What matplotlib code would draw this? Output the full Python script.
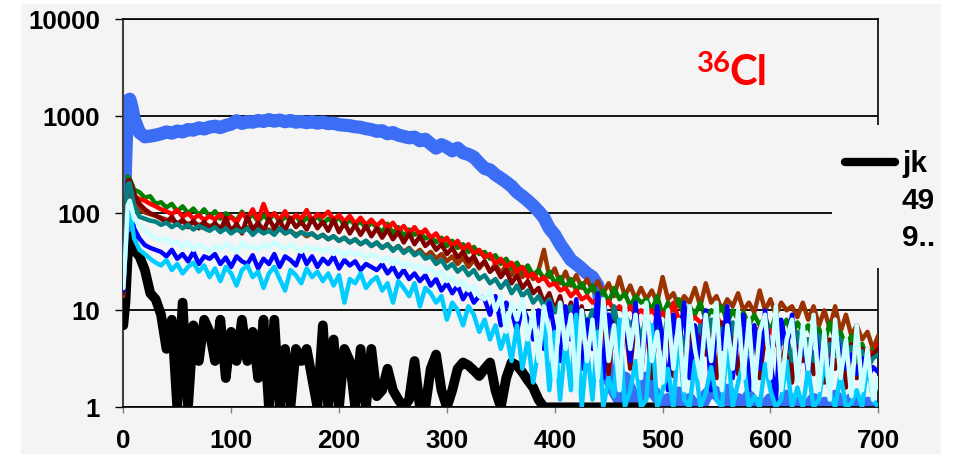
import numpy as np
import matplotlib.pyplot as plt
from matplotlib.lines import Line2D
from matplotlib.patches import Rectangle
from matplotlib.ticker import FixedLocator, FixedFormatter, NullLocator

plt.rcParams['font.family'] = ['Liberation Sans', 'DejaVu Sans']
plt.rcParams['font.weight'] = 'bold'

# channel numbers: fine steps over the entrance peak, then every 5 channels
channel = np.concatenate([np.arange(0, 10, 2), np.arange(10, 701, 5)])

# counts per channel for each run
cl36_main = [12, 300, 1450, 1500, 1250, 950, 680, 615, 625, 640,
             660, 690, 670, 705, 690, 730, 720, 760, 740, 775,
             790, 765, 805, 830, 900, 845, 880, 870, 905, 885,
             925, 890, 915, 880, 905, 870, 885, 860, 880, 850,
             870, 840, 850, 820, 810, 800, 780, 770, 745, 730,
             700, 710, 660, 680, 640, 620, 600, 610, 560, 580,
             520, 470, 510, 480, 440, 470, 420, 405, 380, 330,
             290, 280, 250, 230, 210, 190, 165, 150, 135, 120,
             105, 90, 70, 60, 48, 40, 33, 30, 27, 24,
             22, 18, 6, 2, 1.5, 1.2, 2, 1.5, 1, 1.2,
             2, 1.5, 1.3, 1, 1.2, 1, 1.4, 1, 1.2, 1,
             1, 1.3, 1.5, 1.4, 1.2, 1.5, 1, 1.2, 1, 1.3,
             1, 1.1, 1, 1.2, 1, 1, 1.3, 1, 1.1, 1,
             1, 1.2, 1, 1.1, 1, 1.3, 1, 1, 1.2, 1,
             1, 1.1, 1, 1]

# last counts at channel 490, nothing recorded after that
jk499 = [7, 12, 35, 55, 58, 42, 36, 26, 15, 13,
         9, 4, 8, 1, 12, 1, 7, 3, 8, 6,
         3, 8, 2, 6, 3, 8, 3, 6, 2, 8,
         1, 8, 1, 4, 1, 4, 3, 4, 2, 1,
         7, 1, 5, 1, 4, 3, 1, 4, 1, 4,
         1.3, 1.5, 2.5, 1.5, 1.2, 1, 1.2, 3, 1, 1,
         2.5, 3.5, 1.5, 1, 1.5, 2.5, 2.9, 2.7, 2.4, 2.1,
         2.5, 2.9, 1.5, 1, 2, 2.9, 2.7, 2.3, 1.9, 1.6,
         1.2, 1, 1, 1, 1, 1, 1, 1, 1, 1,
         1, 1, 1, 1, 1, 1, 1, 1, 1, 1,
         1, 1] + [None] * 42

run_green = [18, 60, 240, 225, 200, 175, 165, 145, 150, 125,
             130, 115, 125, 105, 118, 100, 112, 96, 110, 92,
             105, 88, 100, 92, 84, 104, 86, 98, 82, 95,
             85, 100, 80, 93, 84, 96, 78, 90, 82, 94,
             78, 88, 80, 92, 74, 86, 76, 82, 70, 80,
             72, 64, 78, 62, 72, 58, 68, 60, 64, 55,
             58, 50, 56, 46, 52, 44, 48, 40, 45, 38,
             40, 34, 37, 30, 34, 27, 31, 25, 29, 23,
             26, 21, 25, 19, 22, 17, 21, 16, 19, 15,
             18, 14, 16, 12, 17, 13, 15, 11, 14, 12,
             13, 10, 14, 9, 12, 10, 13, 8.5, 11, 9,
             12, 8, 10, 9, 11, 7.5, 10, 8, 9.5, 7,
             9, 7, 8.5, 6, 9, 6.5, 8, 5.5, 7.5, 6,
             7, 5, 6.5, 4.5, 7.5, 5, 6, 4.2, 5.5, 4,
             4.5, 3.2, 4, 3.5]

run_red = [16, 50, 180, 190, 170, 150, 140, 135, 125, 118,
           110, 105, 98, 108, 92, 100, 88, 96, 85, 94,
           86, 98, 84, 92, 80, 100, 88, 110, 84, 125,
           90, 100, 86, 105, 82, 96, 88, 108, 84, 98,
           92, 104, 86, 96, 82, 94, 78, 90, 76, 86,
           74, 84, 70, 80, 66, 74, 62, 72, 60, 68,
           56, 62, 50, 56, 46, 52, 42, 48, 38, 42,
           35, 38, 30, 34, 28, 31, 25, 28, 22, 24,
           20, 22, 18, 19, 16, 17, 14, 16, 13, 14,
           12, 13, 11, 12.5, 10, 11, 9.5, 11, 9, 10,
           9, 10, 8.5, 9.5, 8, 12, 8, 9, 7.5, 8.5,
           7.5, 8, 7, 9, 6.5, 7.5, 6, 7, 5.5, 6.5,
           6, 6.5, 5.5, 6.2, 5, 6, 4.8, 7, 4.5, 5.5,
           4.5, 5, 4.2, 4.8, 4, 4.5, 3.8, 4.2, 3.5, 4,
           3.5, 4, 3.3, 4.5]

run_darkred = [15, 55, 215, 220, 195, 160, 125, 110, 100, 95,
               88, 80, 92, 76, 86, 72, 84, 70, 82, 68,
               80, 66, 90, 64, 78, 62, 92, 68, 80, 66,
               88, 70, 84, 66, 90, 72, 82, 68, 88, 70,
               82, 66, 86, 64, 80, 62, 76, 60, 74, 58,
               70, 56, 68, 54, 64, 50, 62, 48, 58, 46,
               52, 42, 48, 38, 44, 35, 40, 32, 36, 28,
               32, 25, 28, 22, 26, 19, 23, 17, 20, 15,
               17, 12, 15, 10, 14, 8, 12, 6, 11, 5,
               10, 3, 9, 2.2, 10, 4, 8, 2.5, 9, 3,
               8, 2, 9, 4, 7, 2.1, 8, 3, 7.5, 2,
               7, 3.5, 6, 2, 7.5, 3, 5.5, 2.2, 6, 4,
               6.5, 2, 5.5, 3, 6, 2.5, 5, 1.8, 5.5, 3,
               5, 2.2, 4.5, 1.8, 5, 2.5, 4, 1.6, 4.5, 2,
               4, 2.5, 3.5, 4]

run_brown = [14, 45, 160, 175, 150, 130, 110, 102, 98, 94,
             90, 86, 84, 80, 82, 78, 80, 76, 78, 74,
             76, 72, 74, 70, 72, 68, 72, 66, 70, 66,
             68, 64, 70, 62, 66, 60, 64, 58, 62, 56,
             60, 54, 58, 52, 56, 50, 54, 48, 52, 46,
             50, 44, 48, 42, 46, 40, 44, 38, 42, 36,
             40, 34, 38, 32, 36, 30, 35, 28, 33, 27,
             32, 25, 30, 24, 29, 23, 28, 22, 27, 21,
             26, 42, 22, 27, 19, 25, 18, 23, 17, 21,
             16, 20, 15, 19, 14, 22, 14, 18, 13, 17,
             13, 16, 12, 22, 13, 15, 11, 14, 12, 17,
             11, 19, 12, 14, 10, 13, 11, 15, 10, 12,
             9.5, 16, 10, 13, 9, 12, 10, 11, 8.5, 12,
             8, 11, 7, 10, 6.5, 11, 6, 9, 5.5, 7,
             5, 6, 4, 5.5]

run_teal = [17, 50, 200, 205, 160, 120, 92, 88, 84, 82,
            76, 80, 72, 78, 70, 76, 68, 74, 70, 66,
            72, 64, 70, 62, 68, 64, 70, 60, 68, 62,
            66, 60, 70, 62, 66, 58, 64, 60, 62, 56,
            60, 54, 58, 52, 56, 50, 54, 48, 52, 46,
            50, 44, 48, 41, 46, 39, 43, 37, 40, 34,
            36, 30, 33, 27, 30, 25, 28, 23, 26, 21,
            23, 19, 21, 17, 20, 15, 18, 14, 16, 12,
            14, 11, 13, 9.5, 12, 9, 11, 8, 10, 7,
            10, 6.5, 9, 6, 11, 5.5, 9, 7, 8.5, 5,
            9, 5.5, 8, 4.5, 9, 6, 7.5, 4, 8, 5,
            7, 4.2, 8, 5, 6.5, 3.5, 7.5, 4.5, 6, 3.8,
            7, 4, 6, 3.2, 6.5, 4.5, 5.5, 3, 6, 3.5,
            5, 3, 5.5, 2.8, 4.5, 3.5, 5, 2.6, 4.2, 3,
            3.8, 2.5, 3.2, 3.5]

run_blue = [16, 45, 110, 117, 90, 70, 55, 47, 44, 42,
            40, 36, 42, 34, 38, 32, 40, 30, 36, 34,
            38, 30, 35, 28, 36, 32, 30, 37, 27, 34,
            30, 38, 28, 36, 33, 29, 40, 30, 36, 28,
            34, 30, 36, 27, 33, 29, 32, 26, 30, 28,
            26, 30, 24, 28, 22, 26, 21, 24, 20, 23,
            18, 21, 16, 19, 15, 18, 13, 16, 12, 14,
            13, 9, 14, 7, 12, 10, 6, 11, 8, 5,
            10, 4, 12, 6, 3, 11, 5, 13, 2.5, 8,
            4, 15, 2, 9, 6, 1.8, 10, 3, 12, 2.2,
            8, 3, 11, 5, 1.5, 9, 4, 12, 2, 7,
            3, 10, 1.5, 8, 4, 11, 2, 6, 9, 1.5,
            7, 2.5, 10, 3, 1.2, 8, 4, 9, 2, 6,
            2.2, 8, 3, 5, 1.8, 7, 3.2, 2.5, 3.5, 2.2,
            3.2, 2, 2.6, 2.3]

run_skyblue = [17, 40, 90, 100, 80, 55, 42, 38, 34, 31,
               29, 33, 26, 30, 24, 28, 31, 25, 29, 22,
               27, 20, 28, 24, 18, 26, 29, 22, 25, 17,
               24, 28, 21, 16, 26, 23, 19, 27, 22, 25,
               20, 24, 18, 23, 12, 21, 19, 24, 17, 20,
               22, 16, 19, 12, 20, 17, 14, 19, 11, 17,
               15, 12, 14, 8, 12, 10, 7, 11, 9, 6,
               8, 5, 7, 4, 6, 3, 7, 2.5, 5, 1.8,
               4, 8, 1.5, 6, 1.2, 5, 1.5, 9, 1, 4,
               1.2, 6, 1, 2, 1.3, 8, 1, 1.5, 3, 1,
               1.2, 7, 1, 1.5, 2.5, 1, 6, 1.2, 1, 3,
               1, 1.4, 2.6, 1.2, 1, 5, 1, 1.8, 3, 1,
               1.3, 1, 2.8, 1.5, 1, 1.2, 3, 1, 1.6, 1,
               2.5, 1, 1.2, 3, 1.4, 1, 2.2, 1, 1.1, 1.5,
               1, 3, 1.2, 1]

run_lightcyan = [17, 40, 120, 135, 110, 88, 75, 66, 60, 55,
                 52, 56, 48, 52, 44, 50, 42, 48, 44, 40,
                 46, 42, 48, 44, 40, 50, 44, 46, 42, 48,
                 44, 50, 46, 42, 48, 44, 40, 46, 42, 44,
                 40, 44, 38, 42, 36, 41, 37, 39, 34, 38,
                 36, 32, 35, 30, 33, 28, 31, 27, 29, 25,
                 27, 23, 25, 20, 22, 18, 20, 16, 18, 14,
                 13, 16, 10, 14, 6, 12, 8, 13, 5, 10,
                 3, 11, 6, 2, 12, 4, 9, 1.5, 10, 3,
                 8, 2, 13, 3, 7, 1.5, 11, 4, 9, 2,
                 12, 3, 6, 1.8, 10, 2.5, 8, 1.5, 11, 4,
                 2, 9, 3, 12, 1.5, 7, 2.5, 10, 2, 8,
                 1.5, 6, 9, 2, 11, 1.5, 5, 8, 1.8, 7,
                 2.5, 9, 1.5, 6, 1.2, 8, 2, 5, 1.3, 7,
                 1.5, 4, 1.2, 2]

W, H = 956, 454
fig = plt.figure(figsize=(W / 100, H / 100), dpi=100)
fig.patch.set_facecolor('white')
# grey chart area
fig.add_artist(Rectangle((21 / W, 0), 920 / W, 1 - 4 / H, transform=fig.transFigure,
                         facecolor='#f4f4f4', edgecolor='none', zorder=-1))

ax = fig.add_axes([123.3 / W, 1 - 407.3 / H, 755 / W, 388 / H])
ax.set_facecolor('#f4f4f4')
ax.set_yscale('log')
ax.set_ylim(1, 10000)
ax.set_xlim(0, 700)

def draw(vals, color, lw, z):
    ax.plot(channel, np.array(vals, dtype=float), color=color, lw=lw, zorder=z,
            solid_joinstyle='round', solid_capstyle='round')

draw(cl36_main, '#3b6ef5', 9.5, 2)
draw(jk499, 'black', 7, 3)
draw(run_brown, '#993300', 3.2, 4)
draw(run_green, '#008000', 3.2, 5)
draw(run_red, '#ff0000', 3.2, 6)
draw(run_darkred, '#800000', 3.2, 7)
draw(run_teal, '#008080', 3.2, 8)
draw(run_blue, '#0000ff', 3.2, 9)
draw(run_skyblue, '#00ccff', 3.2, 10)
draw(run_lightcyan, '#ccffff', 3.2, 11)

yticks = [1, 10, 100, 1000, 10000]
ax.yaxis.set_major_locator(FixedLocator(yticks))
ax.yaxis.set_major_formatter(FixedFormatter([str(v) for v in yticks]))
ax.yaxis.set_minor_locator(NullLocator())
ax.set_xticks(range(0, 701, 100))
ax.grid(axis='y', color='black', lw=1.3)
ax.set_axisbelow(True)

ax.tick_params(axis='y', length=5.8, width=1, color='black', pad=10.8, labelsize=18.6)
ax.tick_params(axis='x', length=4.5, width=1, color='#808080', pad=11, labelsize=18.6)

for side in ['top', 'bottom', 'right']:
    ax.spines[side].set_color('black')
    ax.spines[side].set_linewidth(1.2)
ax.spines['left'].set_color('#404040')
ax.spines['left'].set_linewidth(1.5)

# legend block on the right
fig.add_artist(Rectangle((832 / W, 1 - 268 / H), 109 / W, 143 / H, transform=fig.transFigure,
                         facecolor='#f4f4f4', edgecolor='none', zorder=5))
fig.add_artist(Line2D([845 / W, 895 / W], [1 - 162 / H, 1 - 162 / H], transform=fig.transFigure,
                      color='black', lw=6, solid_capstyle='round', zorder=6))
for i, part in enumerate(['jk', '49', '9..']):
    fig.text(902 / W, 1 - (172 + 37 * i) / H, part, fontsize=21.5, fontweight='bold',
             va='baseline', ha='left', zorder=7)

# isotope label
fig.text(697 / W, 1 - 72 / H, '36', color='#ff0000', fontsize=21, fontweight='bold',
         family='Lato', va='baseline', ha='left')
fig.text(729 / W, 1 - 85 / H, 'Cl', color='#ff0000', fontsize=30, fontweight='bold',
         family='Lato', va='baseline', ha='left')

fig.savefig('out.png', dpi=100)
